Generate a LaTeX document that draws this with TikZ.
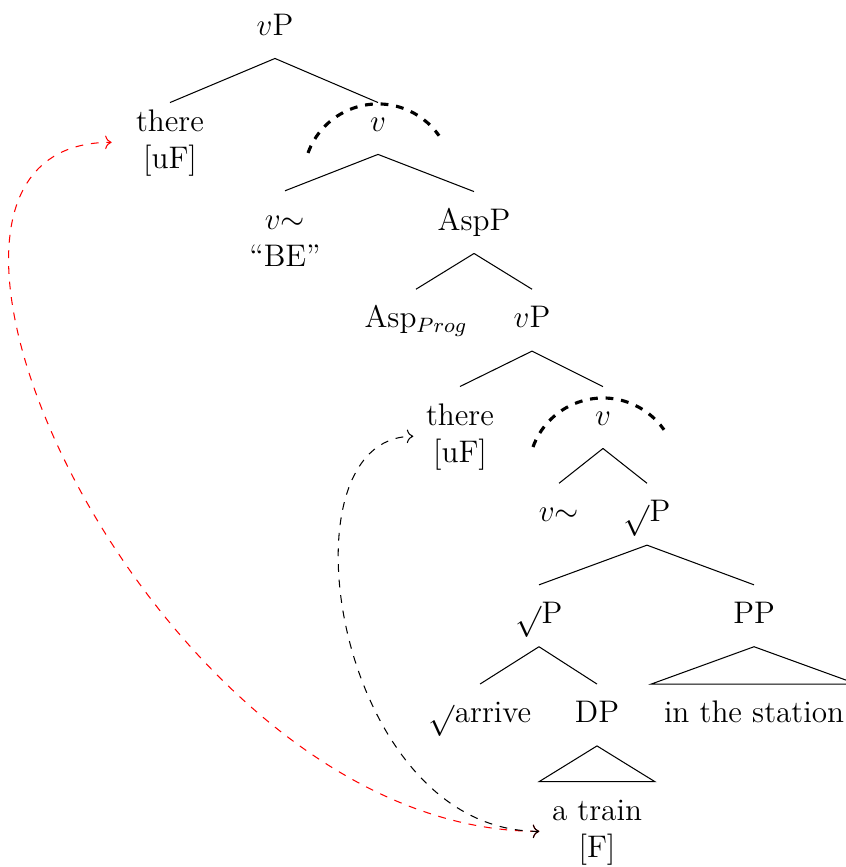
\documentclass[12pt,tikz,border=0pt]{standalone}
\usepackage{tikz}
\usetikzlibrary{arrows.meta}

\begin{document}
\begin{tikzpicture}[
    cat/.style={inner xsep=4.7pt, inner ysep=4.45pt,
                text height=10.15pt, text depth=4.35pt},
    cattwo/.style={inner xsep=4.7pt, inner ysep=4.45pt, align=center},
    branch/.style={line width=0.4pt},
    headarc/.style={very thick, dashed},
    move/.style={<->, dashed, line width=0.4pt},
    movered/.style={move, red},
]
\useasboundingbox (0,0) rectangle (11.423,-11.720);

%---------------------------------------------------------------
% UPPER vP: there + v head (with v~ "BE" and AspP)
%---------------------------------------------------------------
\node[cat] (vPtop) at (3.717, -0.372) {$v$P};
\node[cattwo] (thereHi) at (2.298, -1.924) {\strut there\\{[uF]}\strut};
\node[cat] (vHi) at (5.110, -1.669) {$v$};
\node[cattwo] (vBE) at (3.853, -3.252) {\strut$v{\sim}$\\``BE''\strut};
\node[cat] (AspP) at (6.408, -3.008) {AspP};
\node[cat] (AspProg) at (5.623, -4.328) {Asp$_{Prog}$};
\node[cat] (vPlow) at (7.192, -4.328) {$v$P};

\draw[branch] (vPtop.south) -- ([yshift=-3.85pt]thereHi.north);
\draw[branch] (vPtop.south) -- ([yshift=-3.85pt]vHi.north);
\draw[branch] (vHi.south) -- (vBE.north);
\draw[branch] (vHi.south) -- (AspP.north);
\draw[branch] (AspP.south) -- (AspProg.north);
\draw[branch] (AspP.south) -- (vPlow.north);

%---------------------------------------------------------------
% LOWER vP: there + v head over the root phrase
%---------------------------------------------------------------
\node[cattwo] (thereLo) at (6.218, -5.898) {\strut there\\{[uF]}\strut};
\node[cat] (vLo) at (8.151, -5.644) {$v$};
\node[cat] (vSim) at (7.557, -6.951) {$v{\sim}$};
\node[cat] (rootP) at (8.746, -6.951) {$\sqrt{}$P};
\node[cat] (rootPlow) at (7.286, -8.324) {$\sqrt{}$P};
\node[cat] (PP) at (10.193, -8.324) {PP};
\node[cat] (arrive) at (6.489, -9.665) {$\sqrt{}$arrive};
\node[cat] (DP) at (8.070, -9.665) {DP};
\node[cat] (station) at (10.193, -9.665) {in the station};
\node[cattwo] (train) at (8.070, -11.238) {\strut a train\\{[F]}\strut};

\draw[branch] (vPlow.south) -- (thereLo.north);
\draw[branch] (vPlow.south) -- (vLo.north);
\draw[branch] (vLo.south) -- (vSim.north);
\draw[branch] (vLo.south) -- (rootP.north);
\draw[branch] (rootP.south) -- (rootPlow.north);
\draw[branch] (rootP.south) -- (PP.north);
\draw[branch] (rootPlow.south) -- (arrive.north);
\draw[branch] (rootPlow.south) -- (DP.north);

% roofs
\draw[branch] (PP.south) -- (station.north west) -- (station.north east) -- cycle;
\draw[branch] (DP.south) -- (train.north west) -- (train.north east) -- cycle;

% dashed arcs over the two v heads
\draw[headarc] ([yshift=-0.743cm]vHi.center) ++(160:1.007)
    arc[start angle=160, end angle=35, radius=1.007];
\draw[headarc] ([yshift=-0.743cm]vLo.center) ++(160:1.007)
    arc[start angle=160, end angle=35, radius=1.007];

%---------------------------------------------------------------
% Agree links from [F] up to the two expletives
%---------------------------------------------------------------
\draw[movered, shorten >=4.5pt] (train.west)
    to[out=180, in=180, out distance=5.22cm, in distance=3.84cm] (thereHi.west);
\draw[move] (train.west)
    to[out=180, in=180, out distance=2.76cm, in distance=1.87cm] (thereLo.west);

\end{tikzpicture}
\end{document}
